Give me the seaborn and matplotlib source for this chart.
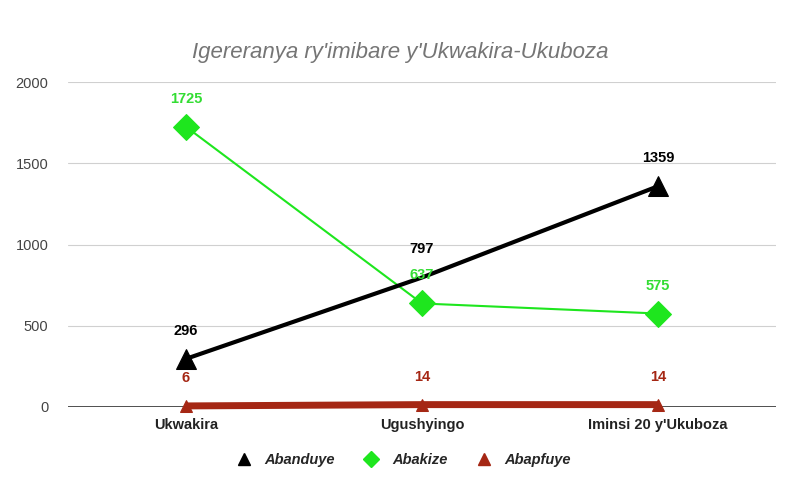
import matplotlib
matplotlib.use("Agg")
import matplotlib.pyplot as plt
import seaborn as sns
import pandas as pd

categories = ["Ukwakira", "Ugushyingo", "Iminsi 20 y'Ukuboza"]
abanduye = [296, 797, 1359]
abakize = [1725, 637, 575]
abapfuye = [6, 14, 14]

sns.set_theme(style="white")
plt.rcParams['font.family'] = ['Liberation Sans', 'DejaVu Sans']

fig = plt.figure(figsize=(8, 4.95), dpi=100)
ax = fig.add_axes([0.085, 0.178, 0.885, 0.656])

x = list(range(len(categories)))
series = [
    ("Abanduye", abanduye, "#000000", "#000000", "^", 14, 3, [0, 2]),
    ("Abakize", abakize, "#1ee61e", "#33dd33", "D", 13, 1.5, None),
    ("Abapfuye", abapfuye, "#a52714", "#a52714", "^", 9, 5, None),
]

# draw in reverse so black sits on top
for name, vals, col, lcol, mk, ms, lw, me in series[::-1]:
    df = pd.DataFrame({"x": x, "y": vals})
    sns.lineplot(data=df, x="x", y="y", ax=ax, color=col, linewidth=lw,
                 marker=mk, markersize=ms, markeredgecolor=col,
                 markevery=me, label=name, legend=False,
                 solid_capstyle="butt", clip_on=False)
    for xi, v in zip(x, vals):
        ax.annotate(str(v), (xi, v), xytext=(0, 28), textcoords="offset pixels",
                    ha="center", va="center", fontsize=10.5, fontweight="bold",
                    color=lcol)

ax.set_xlim(-0.5, 2.5)
ax.set_ylim(0, 2000)
ax.set_yticks([0, 500, 1000, 1500, 2000])
ax.set_xticks(x)
ax.set_xticklabels(categories, fontweight="bold", fontsize=10.5, color="#222222")
ax.tick_params(axis="y", labelsize=10.5, labelcolor="#444444", length=0, pad=14)
ax.tick_params(axis="x", length=0, pad=8)
ax.set_xlabel("")
ax.set_ylabel("")
ax.grid(axis="y", color="#d0d0d0", linewidth=0.8)
ax.axhline(0, color="#333333", linewidth=1.2, zorder=1)
for s in ax.spines.values():
    s.set_visible(False)

hs = [plt.Line2D([], [], linestyle="none", marker=mk, color=col, markersize=8)
      for name, vals, col, lcol, mk, ms, lw, me in series]
fig.legend(hs, ["Abanduye", "Abakize", "Abapfuye"], loc="center",
           bbox_to_anchor=(0.5, 0.07), ncol=3, frameon=False,
           prop={"style": "italic", "weight": "bold", "size": 10.5},
           handletextpad=0.4, columnspacing=1.5)

fig.suptitle("Igereranya ry'imibare y'Ukwakira-Ukuboza", y=0.915,
             fontsize=16, style="italic", color="#757575")

fig.savefig("out.png", dpi=100, facecolor="white")
